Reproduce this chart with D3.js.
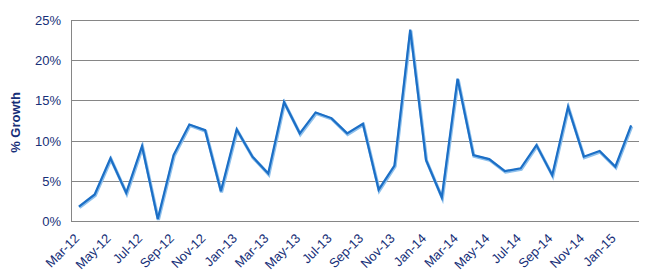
<!DOCTYPE html>
<html>
<head>
<meta charset="utf-8">
<script src="https://cdn.jsdelivr.net/npm/d3@7"></script>
<style>
  body { margin: 0; background: #fff; }
  text { font-family: "Liberation Sans", Arial, sans-serif; }
</style>
</head>
<body>
<svg></svg>
<script>
const size = {w: 646, h: 273};
const margins = {t: 20, r: 7, b: 52, l: 71};

// monthly categories Mar-12 .. Feb-15
const months = ['Mar-12','Apr-12','May-12','Jun-12','Jul-12','Aug-12','Sep-12','Oct-12','Nov-12','Dec-12',
    'Jan-13','Feb-13','Mar-13','Apr-13','May-13','Jun-13','Jul-13','Aug-13','Sep-13','Oct-13','Nov-13','Dec-13',
    'Jan-14','Feb-14','Mar-14','Apr-14','May-14','Jun-14','Jul-14','Aug-14','Sep-14','Oct-14','Nov-14','Dec-14',
    'Jan-15','Feb-15'];
const growth = [1.8, 3.3, 7.8, 3.5, 9.3, 0.25, 8.2, 12.0, 11.3, 3.7,
    11.4, 8.0, 5.9, 14.8, 10.9, 13.5, 12.8, 10.9, 12.1, 3.9, 6.9, 23.8,
    7.6, 2.95, 17.7, 8.2, 7.7, 6.2, 6.55, 9.45, 5.7, 14.2, 8.0, 8.7,
    6.75, 11.9];
const yTicks = [0, 5, 10, 15, 20, 25];

const data = months.map((m, i) => ({month: m, value: growth[i]}));
const textColor = '#172f78';

const svg = d3.select('svg')
    .attr('width', size.w)
    .attr('height', size.h);

let x = d3.scaleBand()
    .domain(months)
    .range([margins.l, size.w - margins.r]);

let y = d3.scaleLinear()
    .domain([0, 25])
    .range([size.h - margins.b, margins.t]);

// gridlines
svg.append('g')
    .selectAll('line')
    .data(yTicks)
    .join('line')
    .attr('x1', margins.l)
    .attr('x2', size.w - margins.r)
    .attr('y1', d => Math.round(y(d)) + 0.5)
    .attr('y2', d => Math.round(y(d)) + 0.5)
    .attr('stroke', '#868686')
    .attr('stroke-width', 1);

// left axis line
svg.append('line')
    .attr('x1', margins.l + 0.5).attr('x2', margins.l + 0.5)
    .attr('y1', margins.t).attr('y2', size.h - margins.b + 0.5)
    .attr('stroke', '#868686');

// y labels
svg.append('g')
    .selectAll('text')
    .data(yTicks)
    .join('text')
    .attr('x', margins.l - 10)
    .attr('y', d => y(d) + 5)
    .attr('text-anchor', 'end')
    .attr('font-size', 13)
    .attr('fill', textColor)
    .text(d => d + '%');

// x labels every 2nd month
svg.append('g')
    .selectAll('text')
    .data(months.filter((m, i) => i % 2 === 0))
    .join('text')
    .attr('transform', d => `translate(${x(d) + x.bandwidth() / 2 - 2}, ${size.h - margins.b + 15}) rotate(-45)`)
    .attr('text-anchor', 'end')
    .attr('dy', '0.35em')
    .attr('font-size', 13)
    .attr('fill', textColor)
    .text(d => d);

// axis title
svg.append('text')
    .attr('transform', `translate(15, ${(margins.t + size.h - margins.b) / 2 + 2}) rotate(-90)`)
    .attr('text-anchor', 'middle')
    .attr('dy', '0.35em')
    .attr('font-size', 13)
    .attr('font-weight', 'bold')
    .attr('fill', textColor)
    .text('% Growth');

let line = d3.line()
    .x(d => x(d.month) + x.bandwidth() / 2)
    .y(d => y(d.value));

svg.append('path')
    .datum(data)
    .attr('d', line)
    .attr('fill', 'none')
    .attr('stroke', '#8ec0ec')
    .attr('stroke-width', 3.2)
    .attr('transform', 'translate(0.6, 1)');

svg.append('path')
    .datum(data)
    .attr('d', line)
    .attr('fill', 'none')
    .attr('stroke', '#1c6fc6')
    .attr('stroke-width', 2.2);
</script>
</body>
</html>
